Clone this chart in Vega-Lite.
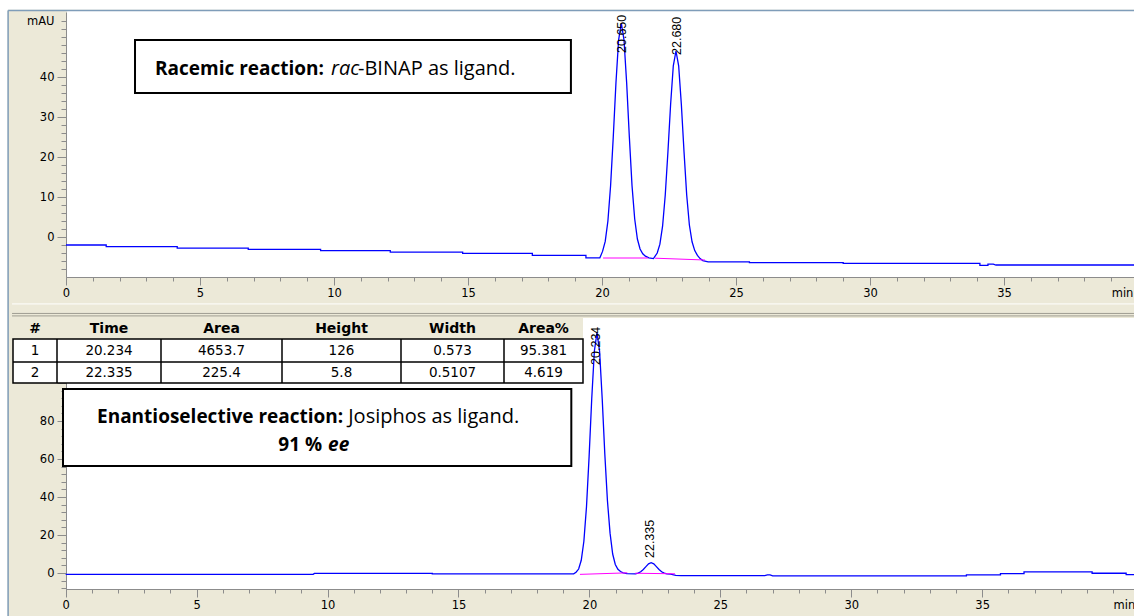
{
  "$schema": "https://vega.github.io/schema/vega-lite/v6.json",
  "width": 1134,
  "height": 616,
  "autosize": {"type": "none"},
  "padding": 0,
  "background": "#ECE9D8",
  "config": {
    "view": {"stroke": null},
    "axis": {"grid": false, "domainColor": "#8C8C8C", "tickColor": "#8C8C8C", "labelColor": "#000000", "labelFont": "DejaVu Sans", "labelFontSize": 11.5, "labelOverlap": false, "labelBound": false, "labelFlush": false}
  },
  "datasets": {
    "top": [
      {"t": 0, "v": -2.0}, {"t": 1.5, "v": -2.0}, {"t": 1.5, "v": -2.4}, {"t": 4.15, "v": -2.4}, {"t": 4.15, "v": -2.8},
      {"t": 6.8, "v": -2.8}, {"t": 6.8, "v": -3.1}, {"t": 9.5, "v": -3.1}, {"t": 9.5, "v": -3.4}, {"t": 12.1, "v": -3.4},
      {"t": 12.1, "v": -3.8}, {"t": 14.8, "v": -3.8}, {"t": 14.8, "v": -4.1}, {"t": 17.4, "v": -4.1}, {"t": 17.4, "v": -4.6},
      {"t": 19.4, "v": -4.6}, {"t": 19.4, "v": -5.2}, {"t": 19.92, "v": -5.2}, {"t": 20.02, "v": -3.6}, {"t": 20.12, "v": -1.1},
      {"t": 20.22, "v": 4.0}, {"t": 20.32, "v": 12.8}, {"t": 20.42, "v": 25.0}, {"t": 20.52, "v": 38.5}, {"t": 20.62, "v": 49.3},
      {"t": 20.72, "v": 53.5}, {"t": 20.82, "v": 49.3}, {"t": 20.92, "v": 38.5}, {"t": 21.02, "v": 25.0}, {"t": 21.12, "v": 12.8},
      {"t": 21.22, "v": 4.5}, {"t": 21.32, "v": -0.5}, {"t": 21.42, "v": -3.0}, {"t": 21.52, "v": -4.2}, {"t": 21.62, "v": -4.8},
      {"t": 21.75, "v": -5.2}, {"t": 21.92, "v": -5.4}, {"t": 22.06, "v": -4.0}, {"t": 22.16, "v": -1.8}, {"t": 22.26, "v": 2.7},
      {"t": 22.36, "v": 10.5}, {"t": 22.46, "v": 21.3}, {"t": 22.56, "v": 33.2}, {"t": 22.66, "v": 42.8}, {"t": 22.76, "v": 46.5},
      {"t": 22.86, "v": 42.8}, {"t": 22.96, "v": 33.2}, {"t": 23.06, "v": 21.3}, {"t": 23.16, "v": 10.5}, {"t": 23.26, "v": 3.0},
      {"t": 23.36, "v": -1.2}, {"t": 23.46, "v": -3.4}, {"t": 23.56, "v": -4.6}, {"t": 23.66, "v": -5.4}, {"t": 23.76, "v": -5.9},
      {"t": 23.96, "v": -6.2}, {"t": 25.5, "v": -6.2}, {"t": 25.5, "v": -6.4}, {"t": 29, "v": -6.4}, {"t": 29, "v": -6.6},
      {"t": 34.1, "v": -6.6}, {"t": 34.1, "v": -7.1}, {"t": 34.4, "v": -7.1}, {"t": 34.4, "v": -6.8}, {"t": 34.6, "v": -6.8},
      {"t": 34.7, "v": -7.0}, {"t": 39.85, "v": -7.0}
    ],
    "topBase": [
      {"seg": 1, "t": 20.04, "v": -5.25}, {"seg": 1, "t": 21.72, "v": -5.25},
      {"seg": 2, "t": 21.98, "v": -5.3}, {"seg": 2, "t": 23.84, "v": -5.75}
    ],
    "bottom": [
      {"t": 0, "v": -0.7}, {"t": 9.45, "v": -0.7}, {"t": 9.5, "v": -0.2}, {"t": 14, "v": -0.2}, {"t": 14, "v": -0.4},
      {"t": 19.4, "v": -0.4}, {"t": 19.49, "v": 0.4}, {"t": 19.59, "v": 2.1}, {"t": 19.69, "v": 6.7}, {"t": 19.79, "v": 16.7},
      {"t": 19.89, "v": 34.9}, {"t": 19.99, "v": 61.4}, {"t": 20.09, "v": 91.7}, {"t": 20.19, "v": 116.7}, {"t": 20.29, "v": 126.5},
      {"t": 20.39, "v": 116.7}, {"t": 20.49, "v": 91.7}, {"t": 20.59, "v": 62.5}, {"t": 20.69, "v": 38.0}, {"t": 20.79, "v": 21.0},
      {"t": 20.89, "v": 10.0}, {"t": 20.99, "v": 4.5}, {"t": 21.09, "v": 2.0}, {"t": 21.19, "v": 0.8}, {"t": 21.29, "v": 0.1},
      {"t": 21.44, "v": -0.3}, {"t": 21.76, "v": -0.4}, {"t": 21.86, "v": 0.0}, {"t": 21.96, "v": 0.7}, {"t": 22.06, "v": 1.9},
      {"t": 22.16, "v": 3.4}, {"t": 22.26, "v": 4.8}, {"t": 22.36, "v": 5.4}, {"t": 22.46, "v": 4.8}, {"t": 22.56, "v": 3.4},
      {"t": 22.66, "v": 1.9}, {"t": 22.76, "v": 0.7}, {"t": 22.86, "v": 0.0}, {"t": 22.96, "v": -0.4}, {"t": 23.1, "v": -0.6},
      {"t": 23.3, "v": -1.2}, {"t": 23.5, "v": -1.4}, {"t": 26.7, "v": -1.4}, {"t": 26.8, "v": -1.0}, {"t": 26.9, "v": -1.0},
      {"t": 27.0, "v": -1.5}, {"t": 34.4, "v": -1.5}, {"t": 34.4, "v": -1.0}, {"t": 35.7, "v": -1.0}, {"t": 35.7, "v": -0.3},
      {"t": 36.6, "v": -0.3}, {"t": 36.6, "v": 0.6}, {"t": 39.2, "v": 0.6}, {"t": 39.2, "v": -0.1}, {"t": 40.5, "v": -0.1},
      {"t": 40.5, "v": -0.8}, {"t": 40.8, "v": -0.8}
    ],
    "bottomBase": [
      {"seg": 1, "t": 19.64, "v": -0.7}, {"seg": 1, "t": 21.45, "v": 0.1},
      {"seg": 2, "t": 21.75, "v": -0.1}, {"seg": 2, "t": 23.27, "v": -0.4}
    ],
    "table": [
      {"r": 0, "c": 0, "s": "#"}, {"r": 0, "c": 1, "s": "Time"}, {"r": 0, "c": 2, "s": "Area"}, {"r": 0, "c": 3, "s": "Height"}, {"r": 0, "c": 4, "s": "Width"}, {"r": 0, "c": 5, "s": "Area%"},
      {"r": 1, "c": 0, "s": "1"}, {"r": 1, "c": 1, "s": "20.234"}, {"r": 1, "c": 2, "s": "4653.7"}, {"r": 1, "c": 3, "s": "126"}, {"r": 1, "c": 4, "s": "0.573"}, {"r": 1, "c": 5, "s": "95.381"},
      {"r": 2, "c": 0, "s": "2"}, {"r": 2, "c": 1, "s": "22.335"}, {"r": 2, "c": 2, "s": "225.4"}, {"r": 2, "c": 3, "s": "5.8"}, {"r": 2, "c": 4, "s": "0.5107"}, {"r": 2, "c": 5, "s": "4.619"}
    ]
  },
  "layer": [
    {
      "layer": [
        {
          "data": {"values": [{}]},
          "mark": {"type": "rect", "fill": "#FFFFFF"},
          "encoding": {
            "x": {"datum": 0.04, "type": "quantitative",
              "scale": {"domain": [0, 39.85], "range": [66, 1134], "nice": false, "zero": false},
              "axis": {"orient": "bottom", "offset": -339, "title": null, "domain": false, "tickSize": 4, "labelPadding": 6,
                "values": [0,1,2,3,4,5,6,7,8,9,10,11,12,13,14,15,16,17,18,19,20,21,22,23,24,25,26,27,28,29,30,31,32,33,34,35,36,37,38,39],
                "labelExpr": "datum.value === 39 ? 'min' : ''",
                "labelAlign": "left"}},
            "x2": {"datum": 39.85},
            "y": {"datum": -10, "type": "quantitative",
              "scale": {"domain": [-10, 56.25], "range": [277, 12], "nice": false, "zero": false},
              "axis": {"orient": "left", "offset": -66, "title": null, "domain": false, "tickSize": 5, "labelPadding": 7,
                "values": [-8,-6,-4,-2,0,2,4,6,8,10,12,14,16,18,20,22,24,26,28,30,32,34,36,38,40,42,44,46,48,50,52,54],
                "labelExpr": "datum.value === 54 ? 'mAU' : ''"}},
            "y2": {"datum": 56.5}
          }
        },
        {
          "data": {"values": [{}]},
          "mark": {"type": "rect", "fill": "#FFFFFF"},
          "encoding": {
            "x": {"datum": -3, "type": "quantitative", "axis": null},
            "x2": {"datum": 39.85},
            "y": {"datum": 56.8, "type": "quantitative", "axis": null},
            "y2": {"datum": 60}
          }
        },
        {
          "data": {"values": [{}]},
          "mark": {"type": "rect", "fill": "#FFFFFF"},
          "encoding": {
            "x": {"datum": -3, "type": "quantitative", "axis": null},
            "x2": {"datum": -2.18},
            "y": {"datum": -95, "type": "quantitative", "axis": null},
            "y2": {"datum": 60}
          }
        },
        {
          "data": {"values": [{}]},
          "mark": {"type": "rule", "color": "#7F9DB9", "strokeWidth": 1.5},
          "encoding": {
            "x": {"datum": -2.16, "type": "quantitative", "axis": null},
            "x2": {"datum": 39.85},
            "y": {"datum": 56.6, "type": "quantitative", "axis": null}
          }
        },
        {
          "data": {"values": [{}]},
          "mark": {"type": "rule", "color": "#7F9DB9", "strokeWidth": 1.5},
          "encoding": {
            "x": {"datum": -2.16, "type": "quantitative", "axis": null},
            "y": {"datum": 56.6, "type": "quantitative", "axis": null},
            "y2": {"datum": -95}
          }
        },
        {
          "data": {"name": "top"},
          "mark": {"type": "line", "color": "#0000FF", "strokeWidth": 1.3},
          "encoding": {
            "x": {"field": "t", "type": "quantitative",
              "scale": {"domain": [0, 39.85], "range": [66, 1134], "nice": false, "zero": false},
              "axis": {"orient": "bottom", "offset": -339, "title": null, "tickSize": 8, "labelPadding": 2,
                "values": [0,5,10,15,20,25,30,35]}},
            "y": {"field": "v", "type": "quantitative",
              "scale": {"domain": [-10, 56.25], "range": [277, 12], "nice": false, "zero": false},
              "axis": {"orient": "left", "offset": -66, "title": null, "tickSize": 9, "labelPadding": 3,
                "values": [0,10,20,30,40]}}
          }
        },
        {
          "data": {"name": "topBase"},
          "mark": {"type": "line", "color": "#FF00FF", "strokeWidth": 1},
          "encoding": {
            "x": {"field": "t", "type": "quantitative", "axis": null},
            "y": {"field": "v", "type": "quantitative", "axis": null},
            "detail": {"field": "seg", "type": "nominal"}
          }
        },
        {
          "data": {"values": [{"t": 20.73, "v": 46, "label": "20.650"}, {"t": 22.79, "v": 45.5, "label": "22.680"}]},
          "mark": {"type": "text", "angle": 270, "align": "left", "baseline": "middle", "font": "Liberation Sans", "fontSize": 12.5, "color": "#000000"},
          "encoding": {
            "x": {"field": "t", "type": "quantitative", "axis": null},
            "y": {"field": "v", "type": "quantitative", "axis": null},
            "text": {"field": "label"}
          }
        },
        {
          "data": {"values": [{}]},
          "mark": {"type": "rect", "fill": "#FFFFFF", "stroke": "#000000", "strokeWidth": 2},
          "encoding": {
            "x": {"datum": 2.575, "type": "quantitative", "axis": null},
            "x2": {"datum": 18.84},
            "y": {"datum": 36.0, "type": "quantitative", "axis": null},
            "y2": {"datum": 49.25}
          }
        },
        {
          "data": {"values": [{"t": 3.32, "v": 40.5, "s": "Racemic reaction:"}]},
          "mark": {"type": "text", "align": "left", "baseline": "alphabetic", "font": "Open Sans", "fontWeight": "bold", "fontSize": 19, "color": "#000000"},
          "encoding": {"x": {"field": "t", "type": "quantitative", "axis": null}, "y": {"field": "v", "type": "quantitative", "axis": null}, "text": {"field": "s"}}
        },
        {
          "data": {"values": [{"t": 9.888, "v": 40.5, "s": "rac"}]},
          "mark": {"type": "text", "align": "left", "baseline": "alphabetic", "font": "Open Sans", "fontStyle": "italic", "fontSize": 20, "color": "#000000"},
          "encoding": {"x": {"field": "t", "type": "quantitative", "axis": null}, "y": {"field": "v", "type": "quantitative", "axis": null}, "text": {"field": "s"}}
        },
        {
          "data": {"values": [{"t": 10.896, "v": 40.5, "s": "-BINAP as ligand."}]},
          "mark": {"type": "text", "align": "left", "baseline": "alphabetic", "font": "Open Sans", "fontSize": 20, "color": "#000000"},
          "encoding": {"x": {"field": "t", "type": "quantitative", "axis": null}, "y": {"field": "v", "type": "quantitative", "axis": null}, "text": {"field": "s"}}
        }
      ],
      "resolve": {"axis": {"x": "independent", "y": "independent"}}
    },
    {
      "layer": [
        {
          "data": {"values": [{}]},
          "mark": {"type": "rect", "fill": "#FFFFFF"},
          "encoding": {
            "x": {"datum": 0.05, "type": "quantitative",
              "scale": {"domain": [0, 40.8], "range": [65.7, 1134], "nice": false, "zero": false},
              "axis": {"orient": "bottom", "offset": -27, "title": null, "domain": false, "tickSize": 4, "labelPadding": 6,
                "values": [0,1,2,3,4,5,6,7,8,9,10,11,12,13,14,15,16,17,18,19,20,21,22,23,24,25,26,27,28,29,30,31,32,33,34,35,36,37,38,39,40],
                "labelExpr": "datum.value === 40 ? 'min' : ''",
                "labelAlign": "left"}},
            "x2": {"datum": 40.8},
            "y": {"datum": -8.4, "type": "quantitative",
              "scale": {"domain": [-8.4, 134.2], "range": [589, 318], "nice": false, "zero": false},
              "axis": {"orient": "left", "offset": -66, "title": null, "domain": false, "labels": false, "tickSize": 5,
                "values": [-8,-4,0,4,8,12,16,20,24,28,32,36,40,44,48,52,56,60,64,68,72,76,80,84,88,92,96,100,104,108,112,116,120,124,128,132]}},
            "y2": {"datum": 134.2}
          }
        },
        {
          "data": {"values": [{}]},
          "mark": {"type": "rule", "color": "#FFFFFF", "strokeWidth": 1},
          "encoding": {
            "x": {"datum": -2.05, "type": "quantitative", "axis": null},
            "x2": {"datum": 40.8},
            "y": {"datum": 141.6, "type": "quantitative", "axis": null}
          }
        },
        {
          "data": {"values": [{}]},
          "mark": {"type": "rule", "color": "#9F9D92", "strokeWidth": 1},
          "encoding": {
            "x": {"datum": -2.05, "type": "quantitative", "axis": null},
            "x2": {"datum": 40.8},
            "y": {"datum": 136.6, "type": "quantitative", "axis": null}
          }
        },
        {
          "data": {"values": [{}]},
          "mark": {"type": "rule", "color": "#9F9D92", "strokeWidth": 1},
          "encoding": {
            "x": {"datum": -2.05, "type": "quantitative", "axis": null},
            "x2": {"datum": 40.8},
            "y": {"datum": 135.3, "type": "quantitative", "axis": null}
          }
        },
        {
          "data": {"name": "bottom"},
          "mark": {"type": "line", "color": "#0000FF", "strokeWidth": 1.3},
          "encoding": {
            "x": {"field": "t", "type": "quantitative",
              "scale": {"domain": [0, 40.8], "range": [65.7, 1134], "nice": false, "zero": false},
              "axis": {"orient": "bottom", "offset": -27, "title": null, "tickSize": 8, "labelPadding": 2,
                "values": [0,5,10,15,20,25,30,35]}},
            "y": {"field": "v", "type": "quantitative",
              "scale": {"domain": [-8.4, 134.2], "range": [589, 318], "nice": false, "zero": false},
              "axis": {"orient": "left", "offset": -66, "title": null, "tickSize": 9, "labelPadding": 3,
                "values": [0,20,40,60,80,100,120],
                "labelExpr": "datum.value <= 80 ? datum.label : ''"}}
          }
        },
        {
          "data": {"name": "bottomBase"},
          "mark": {"type": "line", "color": "#FF00FF", "strokeWidth": 1},
          "encoding": {
            "x": {"field": "t", "type": "quantitative", "axis": null},
            "y": {"field": "v", "type": "quantitative", "axis": null},
            "detail": {"field": "seg", "type": "nominal"}
          }
        },
        {
          "data": {"values": [{"t": 20.26, "v": 109.5, "label": "20.234"}, {"t": 22.33, "v": 7.9, "label": "22.335"}]},
          "mark": {"type": "text", "angle": 270, "align": "left", "baseline": "middle", "font": "Liberation Sans", "fontSize": 12.5, "color": "#000000"},
          "encoding": {
            "x": {"field": "t", "type": "quantitative", "axis": null},
            "y": {"field": "v", "type": "quantitative", "axis": null},
            "text": {"field": "label"}
          }
        },
        {
          "data": {"values": [{}]},
          "mark": {"type": "rect", "fill": "#FFFFFF", "stroke": "#000000", "strokeWidth": 2},
          "encoding": {
            "x": {"datum": -0.103, "type": "quantitative", "axis": null},
            "x2": {"datum": 19.31},
            "y": {"datum": 56.32, "type": "quantitative", "axis": null},
            "y2": {"datum": 96.84}
          }
        },
        {
          "data": {"values": [{"t": 1.196, "v": 79.1, "s": "Enantioselective reaction:"}]},
          "mark": {"type": "text", "align": "left", "baseline": "alphabetic", "font": "Open Sans", "fontWeight": "bold", "fontSize": 19, "color": "#000000"},
          "encoding": {"x": {"field": "t", "type": "quantitative", "axis": null}, "y": {"field": "v", "type": "quantitative", "axis": null}, "text": {"field": "s"}}
        },
        {
          "data": {"values": [{"t": 10.79, "v": 79.1, "s": "Josiphos as ligand."}]},
          "mark": {"type": "text", "align": "left", "baseline": "alphabetic", "font": "Open Sans", "fontSize": 20, "color": "#000000"},
          "encoding": {"x": {"field": "t", "type": "quantitative", "axis": null}, "y": {"field": "v", "type": "quantitative", "axis": null}, "text": {"field": "s"}}
        },
        {
          "data": {"values": [{"t": 9.794, "v": 64.2, "s": "91 %"}]},
          "mark": {"type": "text", "align": "right", "baseline": "alphabetic", "font": "Open Sans", "fontWeight": "bold", "fontSize": 19, "color": "#000000"},
          "encoding": {"x": {"field": "t", "type": "quantitative", "axis": null}, "y": {"field": "v", "type": "quantitative", "axis": null}, "text": {"field": "s"}}
        },
        {
          "data": {"values": [{"t": 10.02, "v": 64.2, "s": "ee"}]},
          "mark": {"type": "text", "align": "left", "baseline": "alphabetic", "font": "Open Sans", "fontWeight": "bold", "fontStyle": "italic", "fontSize": 19, "color": "#000000"},
          "encoding": {"x": {"field": "t", "type": "quantitative", "axis": null}, "y": {"field": "v", "type": "quantitative", "axis": null}, "text": {"field": "s"}}
        }
      ],
      "resolve": {"axis": {"x": "independent", "y": "independent"}}
    },
    {
      "layer": [
        {
          "data": {"values": [{}]},
          "mark": {"type": "rect", "fill": "#ECE9D8"},
          "encoding": {
            "x": {"datum": -0.5, "type": "quantitative", "scale": {"domain": [-0.5, 0.5, 1.5, 2.5, 3.5, 4.5, 5.5], "range": [13, 57, 161, 282, 401, 504, 583], "nice": false, "zero": false}, "axis": null},
            "x2": {"datum": 5.5},
            "y": {"datum": -0.5, "type": "quantitative", "scale": {"domain": [-0.5, 0.5, 1.5, 2.5], "range": [318, 339, 362, 383], "nice": false, "zero": false}, "axis": null},
            "y2": {"datum": 0.5}
          }
        },
        {
          "data": {"values": [{}]},
          "mark": {"type": "rect", "fill": "#FFFFFF", "stroke": "#000000", "strokeWidth": 1.5},
          "encoding": {
            "x": {"datum": -0.5, "type": "quantitative", "axis": null},
            "x2": {"datum": 5.5},
            "y": {"datum": 0.5, "type": "quantitative", "axis": null},
            "y2": {"datum": 2.5}
          }
        },
        {
          "data": {"values": [{}]},
          "mark": {"type": "rule", "color": "#000000", "strokeWidth": 1.5},
          "encoding": {"x": {"datum": -0.5, "type": "quantitative", "axis": null}, "x2": {"datum": 5.5}, "y": {"datum": 1.5, "type": "quantitative", "axis": null}}
        },
        {
          "data": {"values": [{}]},
          "mark": {"type": "rule", "color": "#000000", "strokeWidth": 1.5},
          "encoding": {"x": {"datum": 0.5, "type": "quantitative", "axis": null}, "y": {"datum": 0.5, "type": "quantitative", "axis": null}, "y2": {"datum": 2.5}}
        },
        {
          "data": {"values": [{}]},
          "mark": {"type": "rule", "color": "#000000", "strokeWidth": 1.5},
          "encoding": {"x": {"datum": 1.5, "type": "quantitative", "axis": null}, "y": {"datum": 0.5, "type": "quantitative", "axis": null}, "y2": {"datum": 2.5}}
        },
        {
          "data": {"values": [{}]},
          "mark": {"type": "rule", "color": "#000000", "strokeWidth": 1.5},
          "encoding": {"x": {"datum": 2.5, "type": "quantitative", "axis": null}, "y": {"datum": 0.5, "type": "quantitative", "axis": null}, "y2": {"datum": 2.5}}
        },
        {
          "data": {"values": [{}]},
          "mark": {"type": "rule", "color": "#000000", "strokeWidth": 1.5},
          "encoding": {"x": {"datum": 3.5, "type": "quantitative", "axis": null}, "y": {"datum": 0.5, "type": "quantitative", "axis": null}, "y2": {"datum": 2.5}}
        },
        {
          "data": {"values": [{}]},
          "mark": {"type": "rule", "color": "#000000", "strokeWidth": 1.5},
          "encoding": {"x": {"datum": 4.5, "type": "quantitative", "axis": null}, "y": {"datum": 0.5, "type": "quantitative", "axis": null}, "y2": {"datum": 2.5}}
        },
        {
          "data": {"name": "table"},
          "transform": [{"filter": "datum.r === 0"}],
          "mark": {"type": "text", "align": "center", "baseline": "middle", "font": "DejaVu Sans", "fontWeight": "bold", "fontSize": 14, "color": "#000000"},
          "encoding": {"x": {"field": "c", "type": "quantitative", "axis": null}, "y": {"field": "r", "type": "quantitative", "axis": null}, "text": {"field": "s"}}
        },
        {
          "data": {"name": "table"},
          "transform": [{"filter": "datum.r > 0"}],
          "mark": {"type": "text", "align": "center", "baseline": "middle", "font": "DejaVu Sans", "fontSize": 13.5, "color": "#000000"},
          "encoding": {"x": {"field": "c", "type": "quantitative", "axis": null}, "y": {"field": "r", "type": "quantitative", "axis": null}, "text": {"field": "s"}}
        }
      ]
    }
  ],
  "resolve": {"scale": {"x": "independent", "y": "independent"}, "axis": {"x": "independent", "y": "independent"}}
}
